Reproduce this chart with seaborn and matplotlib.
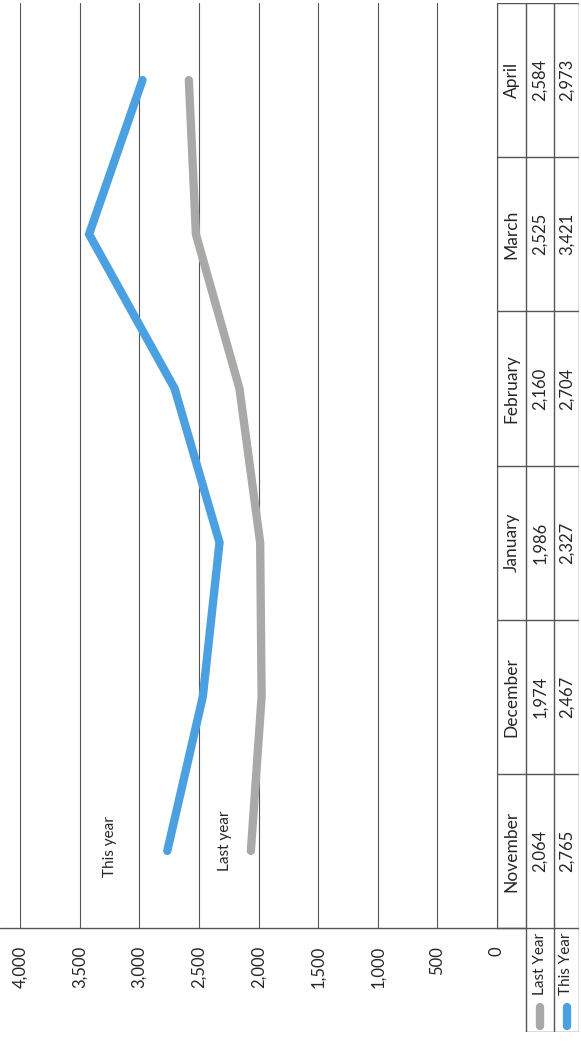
import matplotlib
matplotlib.use("Agg")
import matplotlib.pyplot as plt
import seaborn as sns
import pandas as pd

months = ["November", "December", "January", "February", "March", "April"]
last_year = [2064, 1974, 1986, 2160, 2525, 2584]
this_year = [2765, 2467, 2327, 2704, 3421, 2973]
series_names = ["Last Year", "This Year"]
ticks = [0, 500, 1000, 1500, 2000, 2500, 3000, 3500, 4000]

colors = {"Last Year": "#a9aaa8", "This Year": "#4aa0e0"}

sns.set_style("white")
plt.rcParams["font.family"] = ["Lato", "DejaVu Sans"]

df = pd.DataFrame({
    "Month": months * 2,
    "pos": list(range(len(months))) * 2,
    "Value": last_year + this_year,
    "Series": [series_names[0]] * len(months) + [series_names[1]] * len(months),
})

W, H = 581, 1046
fig = plt.figure(figsize=(W / 100, H / 100), dpi=100)

# grafico girado 90 grados: valores en horizontal (invertido), meses en vertical
ax = fig.add_axes([20 / W, (H - 928) / H, (497 - 20) / W, (928 - 3) / H])
sns.lineplot(data=df, x="Value", y="pos", hue="Series", palette=colors,
             lw=6, sort=False, orient="y", estimator=None, legend=False, ax=ax)
for ln in ax.lines:
    ln.set_solid_capstyle("round")
    ln.set_solid_joinstyle("miter")

ax.set_xlim(4000, 0)
ax.set_ylim(-0.5, len(months) - 0.5)
ax.set_xticks(ticks)
ax.set_xticklabels([f"{t:,}" for t in ticks], rotation=90, fontsize=12)
ax.tick_params(axis="x", length=0, pad=13)
ax.set_yticks([])
ax.set_xlabel("")
ax.set_ylabel("")
ax.grid(axis="x", color="#555555", lw=0.8)
ax.set_axisbelow(True)
for s in ax.spines.values():
    s.set_visible(False)

# etiquetas de las lineas
ax.text(3245, 0.03, "This year", rotation=90, ha="center", va="center", fontsize=11)
ax.text(2281, 0.065, "Last year", rotation=90, ha="center", va="center", fontsize=11)

# linea horizontal inferior (borde del area)
fig.add_artist(plt.Line2D([0, 526 / W], [(H - 928) / H] * 2, color="#555555", lw=1))

# tabla de datos a la derecha
unit = (928 - 3) / len(months)
leg_bottom = -0.5 - (1032 - 928) / unit
axt = fig.add_axes([497 / W, (H - 1032) / H, (579 - 497) / W, (1032 - 3) / H])
axt.set_xlim(0, 3)
axt.set_ylim(leg_bottom, len(months) - 0.5)
axt.axis("off")
col_edges = [0, 29 / 82 * 3, 57 / 82 * 3, 3]
col_mid = [(col_edges[i] + col_edges[i + 1]) / 2 for i in range(3)]
lc = "#555555"

axt.plot([col_edges[0]] * 2, [-0.5, len(months) - 0.5], color=lc, lw=1)
for e in col_edges[1:]:
    axt.plot([e, e], [leg_bottom, len(months) - 0.5], color=lc, lw=1)
for i in range(len(months) + 1):
    axt.plot([0, 3], [i - 0.5] * 2, color=lc, lw=1)
axt.plot([col_edges[1], 3], [leg_bottom] * 2, color=lc, lw=1)

for i, m in enumerate(months):
    axt.text(col_mid[0], i, m, rotation=90, ha="center", va="center", fontsize=12.5)
    axt.text(col_mid[1], i, f"{last_year[i]:,}", rotation=90, ha="center", va="center", fontsize=12)
    axt.text(col_mid[2], i, f"{this_year[i]:,}", rotation=90, ha="center", va="center", fontsize=12)

for j, name in enumerate(series_names):
    axt.text(col_mid[j + 1], -0.53, name, rotation=90, ha="center", va="top", fontsize=11)
    axt.plot([col_mid[j + 1]] * 2, [leg_bottom + 0.04, leg_bottom + 0.16],
             color=colors[name], lw=6, solid_capstyle="round")

fig.savefig("out.png", dpi=100)
